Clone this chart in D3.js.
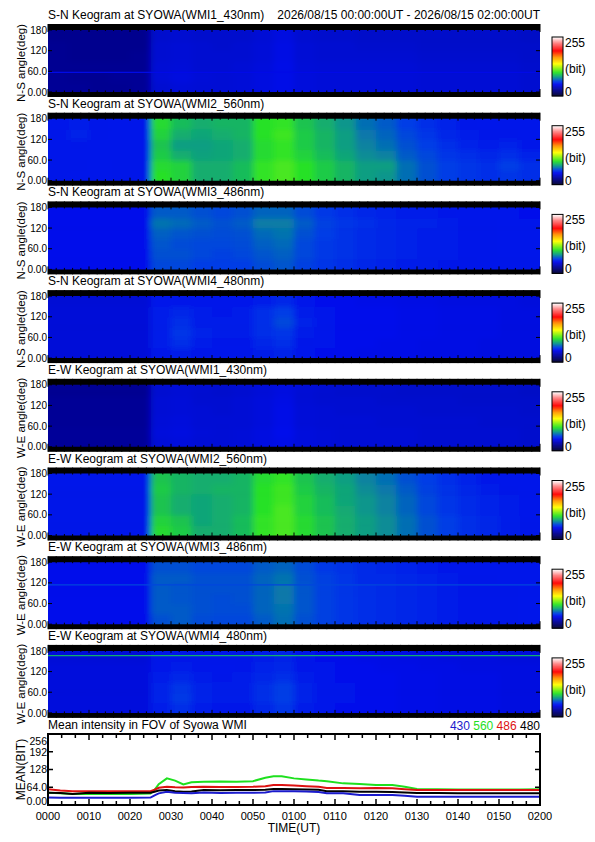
<!DOCTYPE html>
<html lang="en">
<head>
  <meta charset="UTF-8">
  <title>SYOWA WMI keogram</title>
  <style>
    body { margin: 0; background: #fff; }
    text { font-family: "Liberation Sans", Arial, sans-serif; fill: #000; }
  </style>
</head>
<body>

  <div id="app"></div>

  <script src="https://cdn.jsdelivr.net/npm/d3@7/dist/d3.min.js"></script>
  <script>
    // 5 minute time bins (minutes after 00:00UT) and 30 deg angle bins
    const timeBins = [0, 5, 10, 15, 20, 25, 30, 35, 40, 45, 50, 55, 60, 65, 70, 75, 80, 85, 90, 95, 100, 105, 110, 115]
    const angleBins = [0, 30, 60, 90, 120, 150]

    // keogram intensities (bit), one row per angle bin, bottom (0 deg) first
    const sn430 = [
      [28,28,27,27,28, 44,46,45,45,46, 48,50,47,46,46, 46,46,46,45,45, 45,45,45,44],
      [28,27,27,28,28, 46,48,46,45,46, 48,50,47,46,46, 46,46,46,45,45, 45,45,45,44],
      [27,27,27,27,27, 45,46,44,44,45, 47,50,46,45,45, 45,45,45,44,44, 44,44,44,43],
      [27,26,26,26,27, 44,45,44,44,44, 46,49,45,44,44, 44,44,44,43,43, 43,43,43,42],
      [27,26,26,26,26, 44,45,44,43,44, 46,49,45,44,44, 43,43,43,42,42, 42,42,42,42],
      [26,26,26,26,26, 43,44,43,43,43, 45,48,44,43,43, 42,42,42,42,42, 42,42,42,41]
    ]
    const sn560 = [
      [55,54,54,55,55, 102,98,88,88,92, 104,108,102,96,90, 84,82,74,68,64, 62,60,62,60],
      [55,55,54,55,55, 100,98,88,88,92, 104,108,102,96,90, 84,84,74,68,64, 62,60,64,60],
      [54,54,54,54,54, 96,88,85,86,88, 100,104,98,92,86, 80,78,70,66,62, 60,58,60,57],
      [54,55,54,54,54, 94,84,84,86,88, 100,104,96,90,84, 78,74,68,64,60, 57,56,57,55],
      [55,57,55,54,54, 98,88,86,88,90, 102,106,96,90,84, 76,72,66,62,58, 56,55,55,54],
      [54,56,55,54,54, 100,92,88,90,90, 102,104,94,88,82, 74,70,64,60,57, 55,54,54,53]
    ]
    const sn486 = [
      [52,52,52,52,52, 66,66,64,64,64, 67,69,65,62,60, 58,57,56,56,55, 55,54,54,53],
      [52,52,52,52,52, 68,68,66,65,66, 69,71,66,63,61, 59,58,57,56,56, 55,55,54,53],
      [52,52,52,52,52, 69,67,66,66,67, 71,73,66,63,61, 59,58,57,56,56, 55,55,54,53],
      [52,52,52,52,52, 71,69,68,67,68, 73,75,68,64,61, 59,58,57,56,56, 55,55,54,53],
      [52,52,52,52,52, 75,73,70,68,70, 77,77,70,65,62, 60,58,57,57,56, 55,55,54,53],
      [51,51,51,51,51, 70,70,68,66,68, 72,72,67,63,60, 58,57,56,56,55, 54,54,53,52]
    ]
    const sn480 = [
      [46,46,46,46,46, 54,56,54,54,54, 56,57,54,52,51, 50,50,50,49,49, 49,48,48,48],
      [46,46,46,46,46, 56,60,56,55,55, 58,60,55,53,52, 51,50,50,49,49, 49,48,48,48],
      [46,46,46,46,46, 56,62,57,56,56, 60,62,56,54,52, 51,51,50,50,49, 49,49,48,48],
      [46,46,46,46,46, 56,60,56,56,56, 60,66,57,54,52, 51,51,50,50,49, 49,49,48,48],
      [46,46,46,46,46, 56,58,56,55,56, 60,64,56,54,52, 51,51,50,50,49, 49,49,48,48],
      [45,45,45,45,45, 54,55,54,54,54, 56,58,54,52,51, 50,50,49,49,48, 48,48,48,47]
    ]
    const ew430 = [
      [29,29,29,29,29, 46,47,45,45,46, 48,50,47,46,45, 45,45,45,44,44, 44,44,44,43],
      [29,29,29,29,29, 47,48,46,45,46, 48,51,47,46,45, 45,45,45,44,44, 44,44,44,43],
      [28,28,28,28,28, 46,47,45,45,45, 47,50,46,45,45, 45,44,44,44,44, 44,43,43,43],
      [28,28,28,28,28, 45,46,45,44,45, 47,50,46,45,44, 44,44,44,43,43, 43,43,43,42],
      [28,28,28,28,28, 45,46,44,44,45, 47,49,45,44,44, 44,43,43,43,43, 42,42,42,42],
      [27,27,27,27,27, 44,45,44,43,44, 46,48,45,44,43, 43,43,42,42,42, 42,42,42,41]
    ]
    const ew560 = [
      [55,55,55,55,55, 100,96,88,88,92, 104,108,100,94,88, 84,80,74,68,64, 60,58,56,55],
      [55,55,55,55,55, 98,94,86,88,92, 104,108,100,94,88, 84,80,74,68,64, 60,58,56,55],
      [55,55,55,55,55, 94,88,86,88,90, 102,108,98,92,87, 82,78,72,66,62, 59,57,56,54],
      [55,55,55,55,55, 94,88,86,88,90, 102,106,98,92,86, 82,78,72,66,62, 59,57,56,54],
      [55,55,55,55,55, 96,90,88,90,90, 102,106,96,90,86, 80,76,70,65,61, 58,56,55,54],
      [54,54,54,54,54, 94,90,88,88,90, 100,104,94,88,84, 78,74,68,64,60, 57,55,54,53]
    ]
    const ew486 = [
      [52,52,52,52,52, 68,70,67,66,66, 70,74,68,65,62, 60,59,58,57,56, 55,55,55,54],
      [52,52,52,52,52, 70,70,68,67,67, 72,75,69,65,62, 60,59,58,57,56, 55,55,55,54],
      [52,52,52,52,52, 70,69,68,67,68, 72,76,69,65,62, 60,59,58,57,56, 55,55,55,54],
      [52,52,52,52,52, 70,69,68,68,68, 72,76,69,65,62, 60,59,58,57,56, 55,55,55,54],
      [52,52,52,52,52, 70,70,68,68,68, 72,75,68,65,62, 59,59,58,57,56, 55,55,54,54],
      [51,51,51,51,51, 68,68,66,66,66, 70,72,67,63,61, 59,58,57,56,55, 54,54,54,53]
    ]
    const ew480 = [
      [47,47,47,47,47, 56,60,56,55,55, 58,62,56,54,52, 51,51,50,50,49, 49,49,48,48],
      [47,47,47,47,47, 57,63,57,56,56, 60,64,57,54,53, 52,51,50,50,49, 49,49,48,48],
      [47,47,47,47,47, 57,62,57,56,56, 60,64,57,54,53, 52,51,50,50,49, 49,49,48,48],
      [47,47,47,47,47, 56,58,56,55,56, 58,60,56,54,52, 51,51,50,50,49, 49,49,48,48],
      [47,47,47,47,47, 55,56,55,54,55, 57,58,55,53,52, 51,50,50,49,49, 48,48,48,48],
      [46,46,46,46,46, 54,55,54,53,54, 56,57,54,52,51, 50,50,49,49,48, 48,48,47,47]
    ]

    const panelGrids = [sn430, sn560, sn486, sn480, ew430, ew560, ew486, ew480]
    const panelTitles = [
      'S-N Keogram at SYOWA(WMI1_430nm)', 'S-N Keogram at SYOWA(WMI2_560nm)',
      'S-N Keogram at SYOWA(WMI3_486nm)', 'S-N Keogram at SYOWA(WMI4_480nm)',
      'E-W Keogram at SYOWA(WMI1_430nm)', 'E-W Keogram at SYOWA(WMI2_560nm)',
      'E-W Keogram at SYOWA(WMI3_486nm)', 'E-W Keogram at SYOWA(WMI4_480nm)'
    ]
    const panelAxisLabels = [
      'N-S angle(deg)', 'N-S angle(deg)', 'N-S angle(deg)', 'N-S angle(deg)',
      'W-E angle(deg)', 'W-E angle(deg)', 'W-E angle(deg)', 'W-E angle(deg)'
    ]
    const periodLabel = '2026/08/15 00:00:00UT - 2026/08/15 02:00:00UT'

    // thin horizontal streaks seen in some keograms
    const streakPanels = [0, 6, 7]
    const streakAngles = [57, 114, 166]
    const streakValues = [50, 66, 88]

    const angleTicks = [0, 60, 120, 180]
    const angleTickLabels = ['0.00', '60.0', '120', '180']
    const colorbarLabels = ['255', '(bit)', '0']

    // mean intensity in FOV
    const meanTimes = [0,3,6,10,15,20,25,26,27,29,31,33,35,38,42,46,50,53,55,57,60,63,66,68,72,76,80,84,87,90,95,100,105,110,115,120]
    const mean560 = [44,42,40,41,40,40,41,55,75,96,88,74,82,84,85,84,86,98,104,104,96,92,88,86,78,76,72,72,66,58,57,56,56,56,56,57]
    const mean486 = [57,52,50,50,50,50,50,55,62,66,64,63,65,66,65,65,66,68,72,72,70,68,66,61,61,60,61,60,57,54,54,54,54,54,54,54]
    const mean430 = [27,26,26,26,26,26,27,35,42,48,44,43,42,45,43,44,44,45,50,50,50,49,47,42,42,36,36,36,33,30,30,30,30,30,30,30]
    const mean480 = [44,43,40,44,43,44,44,48,52,54,50,48,49,54,53,54,54,55,58,58,57,56,55,50,50,48,48,47,45,43,43,42,42,42,42,42]
    const meanBands = ['560', '486', '480', '430']
    const legendBands = ['430', '560', '486', '480']
    const meanTicks = [0, 64, 128, 192, 256]
    const meanTickLabels = ['0.00', '64.0', '128', '192', '256']
    const timeTicks = [0, 10, 20, 30, 40, 50, 60, 70, 80, 90, 100, 110, 120]
    const timeTickLabels = ['0000', '0010', '0020', '0030', '0040', '0050', '0100', '0110', '0120', '0130', '0140', '0150', '0200']

    const bandColor = { '430': '#1a1acc', '560': '#1ee01e', '486': '#dd1111', '480': '#000000' }
    const meanSeries = { '430': mean430, '560': mean560, '486': mean486, '480': mean480 }

    // rainbow + white colour table
    const colormap = d3.scaleLinear()
      .domain([0, 20, 51, 64, 82, 102, 117, 140, 168, 196, 230, 255])
      .range(['#000028', '#000078', '#000aeb', '#003ce6', '#0a968c', '#28e128', '#78f014',
              '#ffff00', '#ff9600', '#ff0000', '#ff8282', '#ffffff'])
      .clamp(true)

    const W = 595, H = 842
    const left = 48, right = 540
    const panelStep = 88.7, firstTop = 24, panelH = 73
    const pad = 14

    const svg = d3.select('#app').append('svg')
      .attr('width', W)
      .attr('height', H)

    const defs = svg.append('defs')
    defs.append('filter')
      .attr('id', 'soft')
      .attr('x', '-5%').attr('y', '-20%').attr('width', '110%').attr('height', '140%')
      .append('feGaussianBlur')
      .attr('stdDeviation', '3.2 2.6')

    const x = d3.scaleLinear().domain([0, 120]).range([left, right])

    svg.append('text')
      .attr('x', right)
      .attr('y', firstTop - 5)
      .attr('text-anchor', 'end')
      .attr('font-size', 12)
      .text(periodLabel)

    panelGrids.forEach((grid, i) => {
      const top = firstTop + i * panelStep
      const y = d3.scaleLinear().domain([0, 180]).range([top + 68, top + 6])
      const g = svg.append('g')

      g.append('text')
        .attr('x', left)
        .attr('y', top - 5)
        .attr('font-size', 12)
        .text(panelTitles[i])

      g.append('rect')
        .attr('x', left).attr('y', top)
        .attr('width', right - left).attr('height', panelH)
        .attr('fill', '#000')

      defs.append('clipPath')
        .attr('id', 'clip' + i)
        .append('rect')
        .attr('x', left).attr('y', y(180))
        .attr('width', right - left).attr('height', y(0) - y(180))

      const cells = []
      grid.forEach((row, r) => {
        row.forEach((v, c) => cells.push({ r, c, t0: timeBins[c], a0: angleBins[r], v }))
      })
      const lastC = timeBins.length - 1, lastR = angleBins.length - 1

      const img = g.append('g').attr('clip-path', `url(#clip${i})`)
      img.append('g')
        .attr('filter', 'url(#soft)')
        .selectAll('rect')
        .data(cells)
        .enter()
        .append('rect')
        .attr('x', d => x(d.t0) - (d.c === 0 ? pad : 0))
        .attr('width', d => x(d.t0 + 5) - x(d.t0) + 0.6 + (d.c === 0 || d.c === lastC ? pad : 0))
        .attr('y', d => y(d.a0 + 30) - (d.r === lastR ? pad : 0))
        .attr('height', d => y(d.a0) - y(d.a0 + 30) + 0.6 + (d.r === 0 || d.r === lastR ? pad : 0))
        .attr('fill', d => colormap(d.v))

      // streaks
      streakPanels.forEach((p, k) => {
        if (p !== i) return
        img.append('line')
          .attr('x1', left).attr('x2', right)
          .attr('y1', y(streakAngles[k])).attr('y2', y(streakAngles[k]))
          .attr('stroke', colormap(streakValues[k]))
          .attr('stroke-width', 1.2)
      })

      // time ticks, bottom and top, inward
      const minor = d3.range(0, 121, 2)
      g.selectAll('.tb').data(minor).enter().append('line')
        .attr('x1', d => x(d)).attr('x2', d => x(d))
        .attr('y1', top + panelH).attr('y2', d => top + panelH - (d % 10 === 0 ? 8 : 6.5))
        .attr('stroke', '#000').attr('stroke-width', 1)
      g.selectAll('.tt').data(minor).enter().append('line')
        .attr('x1', d => x(d)).attr('x2', d => x(d))
        .attr('y1', top).attr('y2', d => top + (d % 10 === 0 ? 8 : 7))
        .attr('stroke', '#000').attr('stroke-width', 1)

      // angle ticks, left and right
      g.selectAll('.al').data(angleTicks).enter().append('line')
        .attr('x1', left).attr('x2', left + 4)
        .attr('y1', d => y(d)).attr('y2', d => y(d))
        .attr('stroke', '#000')
      g.selectAll('.ar').data(angleTicks).enter().append('line')
        .attr('x1', right).attr('x2', right - 4)
        .attr('y1', d => y(d)).attr('y2', d => y(d))
        .attr('stroke', '#000')

      g.selectAll('.alab').data(angleTicks).enter().append('text')
        .attr('x', left - 1)
        .attr('y', d => y(d))
        .attr('dy', '0.36em')
        .attr('text-anchor', 'end')
        .attr('font-size', 10)
        .text((d, k) => angleTickLabels[k])

      g.append('text')
        .attr('transform', `translate(25,${(y(0) + y(180)) / 2 + 2}) rotate(-90)`)
        .attr('text-anchor', 'middle')
        .attr('font-size', 11.5)
        .text(panelAxisLabels[i])

      // colour bar
      const cb = d3.scaleLinear().domain([0, 255]).range([top + 72, top + 13])
      const cbar = g.append('g')
      cbar.selectAll('rect')
        .data(d3.range(0, 256))
        .enter()
        .append('rect')
        .attr('x', 552).attr('width', 11)
        .attr('y', d => cb(d + 1))
        .attr('height', d => cb(d) - cb(d + 1) + 0.3)
        .attr('fill', d => colormap(d))
      cbar.append('rect')
        .attr('x', 552).attr('y', cb(255))
        .attr('width', 11).attr('height', cb(0) - cb(255))
        .attr('fill', 'none').attr('stroke', '#000').attr('stroke-width', 1)
      const cbY = [top + 23, top + 49, top + 72]
      cbar.selectAll('text').data(colorbarLabels).enter().append('text')
        .attr('x', 565)
        .attr('y', (d, k) => cbY[k])
        .attr('font-size', 12)
        .text(d => d)
    })

    // mean intensity chart
    const mTop = 734, mBottom = 805
    const my = d3.scaleLinear().domain([0, 256]).range([mBottom, mTop])

    svg.append('text')
      .attr('x', left)
      .attr('y', 729)
      .attr('font-size', 12)
      .text('Mean intensity in FOV of Syowa WMI')

    const legend = svg.append('text')
      .attr('x', right)
      .attr('y', 730)
      .attr('text-anchor', 'end')
      .attr('font-size', 12)
    legendBands.forEach((b, k) => {
      legend.append('tspan')
        .style('fill', bandColor[b])
        .text((k ? ' ' : '') + b)
    })

    defs.append('clipPath')
      .attr('id', 'clipMean')
      .append('rect')
      .attr('x', left).attr('y', mTop)
      .attr('width', right - left).attr('height', mBottom - mTop)

    const line = d3.line()
      .x((d, k) => x(meanTimes[k]))
      .y(d => my(d))

    const lines = svg.append('g').attr('clip-path', 'url(#clipMean)')
    meanBands.forEach(b => {
      lines.append('path')
        .datum(meanSeries[b])
        .attr('d', line)
        .attr('fill', 'none')
        .attr('stroke', bandColor[b])
        .attr('stroke-width', 2)
    })

    svg.append('rect')
      .attr('x', left).attr('y', mTop)
      .attr('width', right - left).attr('height', mBottom - mTop)
      .attr('fill', 'none').attr('stroke', '#000').attr('stroke-width', 2)

    const mMinor = d3.range(0, 121, 10 / 3)
    svg.selectAll('.mtb').data(mMinor).enter().append('line')
      .attr('x1', d => x(d)).attr('x2', d => x(d))
      .attr('y1', mBottom).attr('y2', (d, k) => mBottom - (k % 3 === 0 ? 6 : 4))
      .attr('stroke', '#000').attr('stroke-width', 1.5)
    svg.selectAll('.mtt').data(mMinor).enter().append('line')
      .attr('x1', d => x(d)).attr('x2', d => x(d))
      .attr('y1', mTop).attr('y2', (d, k) => mTop + (k % 3 === 0 ? 6 : 4))
      .attr('stroke', '#000').attr('stroke-width', 1.5)
    svg.selectAll('.myl').data(meanTicks).enter().append('line')
      .attr('x1', left).attr('x2', left + 5)
      .attr('y1', d => my(d)).attr('y2', d => my(d))
      .attr('stroke', '#000').attr('stroke-width', 1.5)
    svg.selectAll('.myr').data(meanTicks).enter().append('line')
      .attr('x1', right).attr('x2', right - 5)
      .attr('y1', d => my(d)).attr('y2', d => my(d))
      .attr('stroke', '#000').attr('stroke-width', 1.5)

    // end labels are kept inside the frame
    svg.selectAll('.mylab').data(meanTicks).enter().append('text')
      .attr('x', left - 1)
      .attr('y', d => Math.max(mTop + 7, Math.min(mBottom - 4, my(d))))
      .attr('dy', '0.36em')
      .attr('text-anchor', 'end')
      .attr('font-size', 10.5)
      .text((d, k) => meanTickLabels[k])

    svg.selectAll('.mxlab').data(timeTicks).enter().append('text')
      .attr('x', d => x(d))
      .attr('y', 820)
      .attr('text-anchor', 'middle')
      .attr('font-size', 11)
      .text((d, k) => timeTickLabels[k])

    svg.append('text')
      .attr('x', (left + right) / 2)
      .attr('y', 832)
      .attr('text-anchor', 'middle')
      .attr('font-size', 12)
      .text('TIME(UT)')

    svg.append('text')
      .attr('transform', `translate(25,${(mTop + mBottom) / 2}) rotate(-90)`)
      .attr('text-anchor', 'middle')
      .attr('font-size', 12)
      .text('MEAN(BIT)')
  </script>
</body>
</html>
